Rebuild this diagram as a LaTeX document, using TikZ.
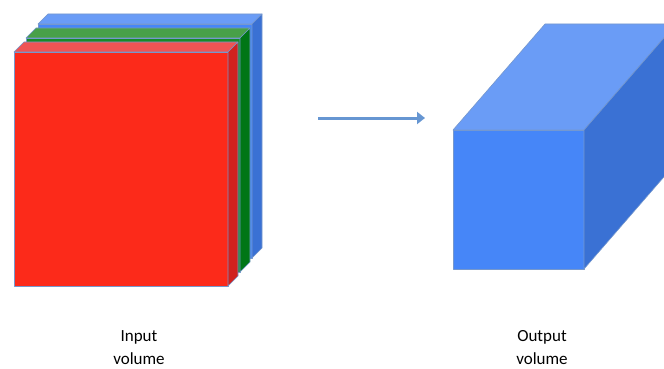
\documentclass[tikz,border=0pt]{standalone}
\usepackage{fontspec}
\setmainfont{Carlito}
\usetikzlibrary{arrows.meta}

\definecolor{frontred}{RGB}{252,42,26}
\definecolor{topred}{RGB}{238,84,84}
\definecolor{sidered}{RGB}{208,34,30}
\definecolor{frontgreen}{RGB}{22,138,40}
\definecolor{topgreen}{RGB}{72,160,72}
\definecolor{sidegreen}{RGB}{0,118,22}
\definecolor{frontblue}{RGB}{70,134,248}
\definecolor{topblue}{RGB}{106,156,246}
\definecolor{sideblue}{RGB}{58,113,212}
\definecolor{edgeblue}{RGB}{118,152,205}
\definecolor{arrowblue}{RGB}{102,150,210}

\begin{document}
\begin{tikzpicture}[x=1pt, y=-1pt,
                    face/.style={draw=edgeblue, line width=0.6pt, line join=round},
                    volume label/.style={font=\fontsize{17}{23}\selectfont, align=center, inner sep=0pt}]
  \useasboundingbox (0,0) rectangle (664,369);
  \clip (0,0) rectangle (664,369);

  % input volume: three layers, back one first
  \foreach \x/\y/\c in {38/24/blue, 26/38/green, 14/52/red} {
    \filldraw[face, fill=front\c] (\x,\y) rectangle ++(214,234);
    \filldraw[face, fill=top\c] (\x,\y) -- ++(10,-10) -- ++(214,0) -- ++(-10,10) -- cycle;
    \filldraw[face, fill=side\c] (\x+214,\y) -- ++(10,-10) -- ++(0,234) -- ++(-10,10) -- cycle;
  }

  % output volume
  \filldraw[face, fill=frontblue] (453,130) rectangle (584,269);
  \filldraw[face, fill=topblue] (453,130) -- (545,24) -- (676,24) -- (584,130) -- cycle;
  \filldraw[face, fill=sideblue] (584,130) -- (676,24) -- (676,163) -- (584,269) -- cycle;

  \coordinate (arrow start) at (318,118);
  \coordinate (arrow end) at (425,118);
  \draw[-{Triangle[length=8pt,width=12pt]}, arrowblue, line width=3pt] (arrow start) -- (arrow end);

  \node[volume label] (input) at (139,348) {Input\\volume};
  \node[volume label] (output) at (542,348) {Output\\volume};
\end{tikzpicture}
\end{document}
